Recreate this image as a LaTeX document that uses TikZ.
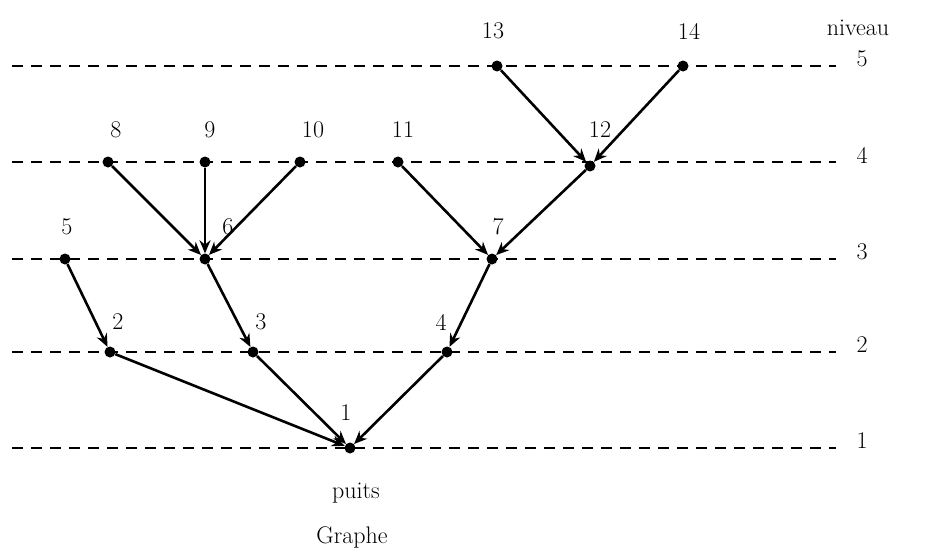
\documentclass[tikz,border=0pt]{standalone}
\usetikzlibrary{arrows.meta}
\begin{document}
\begin{tikzpicture}[x=1pt,y=-1pt,
  vtx/.style={circle,fill=black,inner sep=0pt,minimum size=11pt},
  lbl/.style={font=\fontsize{24}{28}\selectfont,inner sep=0pt},
  lvl/.style={draw,line width=2.8pt,dash pattern=on 11pt off 8pt},
  edge/.style={draw,line width=2.6pt,-{Stealth[length=13pt,width=11pt]}}]
\useasboundingbox (0,0) rectangle (933,554);
% level lines
\foreach \y/\n in {66/5,162/4,259/3,352/2,448/1}{
  \coordinate (L\n a) at (12,\y);
  \coordinate (L\n b) at (836,\y);
  \draw[lvl] (L\n a) -- (L\n b);
  \node[lbl] (lv\n) at (862,\y-7) {\n};
}
\node[lbl] (niveau) at (858,28) {niveau};
% vertices
\node[vtx] (n13) at (497,66) {};
\node[vtx] (n14) at (683,66) {};
\node[vtx] (n8) at (108,162) {};
\node[vtx] (n9) at (205,162) {};
\node[vtx] (n10) at (300,162) {};
\node[vtx] (n11) at (398,162) {};
\node[vtx] (n12) at (590,166) {};
\node[vtx] (n5) at (65,259) {};
\node[vtx] (n6) at (205,259) {};
\node[vtx] (n7) at (492,259) {};
\node[vtx] (n2) at (110,352) {};
\node[vtx] (n3) at (253,352) {};
\node[vtx] (n4) at (447,352) {};
\node[vtx] (n1) at (350,448) {};
% labels
\node[lbl] (t13) at (493,31) {13};
\node[lbl] (t14) at (689,31) {14};
\node[lbl] (t8) at (116,130) {8};
\node[lbl] (t9) at (210,130) {9};
\node[lbl] (t10) at (313,130) {10};
\node[lbl] (t11) at (403,130) {11};
\node[lbl] (t12) at (600,130) {12};
\node[lbl] (t5) at (67,227) {5};
\node[lbl] (t6) at (228,227) {6};
\node[lbl] (t7) at (498,227) {7};
\node[lbl] (t2) at (118,322) {2};
\node[lbl] (t3) at (261,322) {3};
\node[lbl] (t4) at (441,322) {4};
\node[lbl] (t1) at (346,413) {1};
\node[lbl] (puits) at (356,493) {puits};
\node[lbl] (graphe) at (352,537) {Graphe};
% edges
\draw[edge] (n13) -- (n12);
\draw[edge] (n14) -- (n12);
\draw[edge] (n8) -- (n6);
\draw[edge] (n9) -- (n6);
\draw[edge] (n10) -- (n6);
\draw[edge] (n11) -- (n7);
\draw[edge] (n12) -- (n7);
\draw[edge] (n5) -- (n2);
\draw[edge] (n6) -- (n3);
\draw[edge] (n7) -- (n4);
\draw[edge] (n2) -- (n1);
\draw[edge] (n3) -- (n1);
\draw[edge] (n4) -- (n1);
\end{tikzpicture}
\end{document}
